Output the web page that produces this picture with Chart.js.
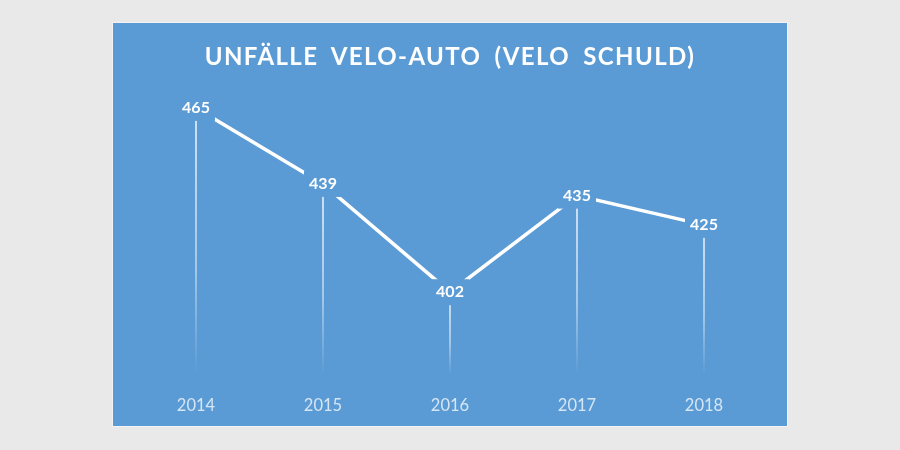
<!DOCTYPE html>
<html>
<head>
<meta charset="utf-8">
<script src="https://cdn.jsdelivr.net/npm/chart.js@4"></script>
<style>
  html, body { margin: 0; padding: 0; }
  body { width: 900px; height: 450px; background: #e9e9e9; position: relative; overflow: hidden; }
  #panel { position: absolute; left: 113px; top: 23px; width: 674px; height: 403px; background: #5b9bd5; box-shadow: 0 0 0 1px #f3f3f3; overflow: hidden; }
  #title { position: absolute; left: 0; top: 18px; width: 674px; text-align: center; color: #fff; font: bold 24px Lato, sans-serif; letter-spacing: 1.4px; word-spacing: 6px; }
  canvas { position: absolute; left: 0; top: 0; }
</style>
</head>
<body>
<div id="panel">
  <canvas id="chart" width="674" height="418"></canvas>
  <div id="title">UNFÄLLE VELO-AUTO (VELO SCHULD)</div>
</div>
<script>
const years = ['2014', '2015', '2016', '2017', '2018'];
const accidents = [465, 439, 402, 435, 425];

const panelBlue = '#5b9bd5';

// thin fading lines from each point down to the axis
const dropLines = {
    id: 'dropLines',
    beforeDatasetsDraw(chart) {
        const ctx = chart.ctx;
        const bottom = chart.chartArea.bottom + 4;
        chart.getDatasetMeta(0).data.forEach(pt => {
            const g = ctx.createLinearGradient(0, pt.y, 0, bottom);
            g.addColorStop(0, 'rgba(255,255,255,0.95)');
            g.addColorStop(0.6, 'rgba(255,255,255,0.6)');
            g.addColorStop(1, 'rgba(255,255,255,0)');
            ctx.save();
            ctx.strokeStyle = g;
            ctx.lineWidth = 1.5;
            ctx.beginPath();
            ctx.moveTo(pt.x, pt.y);
            ctx.lineTo(pt.x, bottom);
            ctx.stroke();
            ctx.restore();
        });
    }
};

// value labels sitting on the points, boxed in the panel colour
const valueLabels = {
    id: 'valueLabels',
    afterDatasetsDraw(chart) {
        const ctx = chart.ctx;
        const values = chart.data.datasets[0].data;
        chart.getDatasetMeta(0).data.forEach((pt, i) => {
            ctx.save();
            ctx.fillStyle = panelBlue;
            ctx.fillRect(pt.x - 19, pt.y - 13, 38, 26);
            ctx.fillStyle = '#ffffff';
            ctx.font = 'bold 16px Lato, sans-serif';
            ctx.textAlign = 'center';
            ctx.textBaseline = 'middle';
            ctx.fillText(String(values[i]), pt.x, pt.y);
            ctx.restore();
        });
    }
};

new Chart(document.getElementById('chart'), {
    type: 'line',
    data: {
        labels: years,
        datasets: [{
            label: 'Unfälle',
            data: accidents,
            borderColor: '#ffffff',
            borderWidth: 3.5,
            pointRadius: 0,
            tension: 0,
        }]
    },
    options: {
        responsive: false,
        animation: false,
        layout: { padding: { left: 19.5, right: 19.5, top: 41, bottom: 0 } },
        plugins: {
            legend: { display: false },
            tooltip: { enabled: false },
        },
        scales: {
            x: {
                offset: true,
                grid: { display: false, drawTicks: false },
                border: { display: false },
                ticks: { color: 'rgba(255,255,255,0.75)', font: { family: 'Lato', size: 16.5 }, padding: 25 },
            },
            y: {
                display: false,
                min: 375,
                max: 480,
            }
        }
    },
    plugins: [dropLines, valueLabels]
});
</script>
</body>
</html>
